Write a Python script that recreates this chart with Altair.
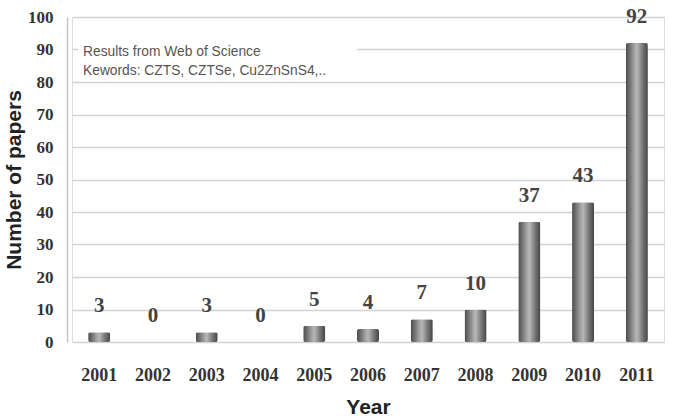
import altair as alt
import pandas as pd

years = ["2001", "2002", "2003", "2004", "2005", "2006", "2007", "2008", "2009", "2010", "2011"]
papers = [3, 0, 3, 0, 5, 4, 7, 10, 37, 43, 92]
note_lines = ["Results from Web of Science", "Kewords: CZTS, CZTSe, Cu2ZnSnS4,.."]

df = pd.DataFrame({"Year": years, "Papers": papers})

SERIF = "Liberation Serif"
SANS = "Liberation Sans"

# cylinder-like shading across each bar
cyl = alt.Gradient(
    gradient="linear",
    x1=0, x2=1, y1=0, y2=0,
    stops=[
        alt.GradientStop(color="#4a4a4a", offset=0),
        alt.GradientStop(color="#9a9a9a", offset=0.35),
        alt.GradientStop(color="#b8b8b8", offset=0.5),
        alt.GradientStop(color="#7a7a7a", offset=0.75),
        alt.GradientStop(color="#444444", offset=1),
    ],
)

x = alt.X(
    "Year:N", sort=years,
    scale=alt.Scale(paddingInner=0.59, paddingOuter=0.3),
    axis=alt.Axis(
        title="Year", labelAngle=0, domain=False, ticks=False,
        labelFont=SERIF, labelFontSize=18, labelFontWeight="bold", labelColor="#333333",
        labelPadding=24,
        titleFont=SANS, titleFontSize=21, titleFontWeight="bold", titleColor="#222222",
        titlePadding=12,
    ),
)
y = alt.Y(
    "Papers:Q",
    scale=alt.Scale(domain=[0, 100], nice=False),
    axis=alt.Axis(
        title="Number of papers", values=list(range(0, 101, 10)),
        offset=5, ticks=False, domainColor="#c4c4c4", domainWidth=1.5,
        gridColor="#d2d2d2", gridWidth=1.5,
        labelFont=SERIF, labelFontSize=17, labelFontWeight="bold", labelColor="#333333",
        labelPadding=14,
        titleFont=SANS, titleFontSize=21, titleFontWeight="bold", titleColor="#222222",
        titlePadding=3,
    ),
)

bars = alt.Chart(df).mark_bar(color=cyl, cornerRadius=2).encode(x=x, y=y)

labels = alt.Chart(df).mark_text(
    font=SERIF, fontSize=21, fontWeight="bold", color="#444444", dy=-26, baseline="middle"
).encode(x=x, y=y, text="Papers:Q")

# white panel behind the note text
note_bg = alt.Chart(pd.DataFrame({"k": [0]})).mark_rect(color="white").encode(
    x=alt.value(6), x2=alt.value(285), y=alt.value(20), y2=alt.value(62)
)

note_style = dict(font=SANS, fontSize=13.8, color="#555555", align="left", baseline="middle")
note1 = alt.Chart(pd.DataFrame({"t": [note_lines[0]]})).mark_text(**note_style).encode(
    text="t:N", x=alt.value(11), y=alt.value(35)
)
note2 = alt.Chart(pd.DataFrame({"t": [note_lines[1]]})).mark_text(**note_style).encode(
    text="t:N", x=alt.value(11), y=alt.value(54)
)

chart = alt.layer(bars, note_bg, note1, note2, labels).properties(
    width=592, height=325,
    autosize=alt.AutoSizeParams(type="none"),
    padding={"left": 72, "top": 17, "right": 9, "bottom": 78},
).configure_view(stroke=None).configure(background="white")

chart.save("out.html", embed_options={"renderer": "svg", "actions": False})
